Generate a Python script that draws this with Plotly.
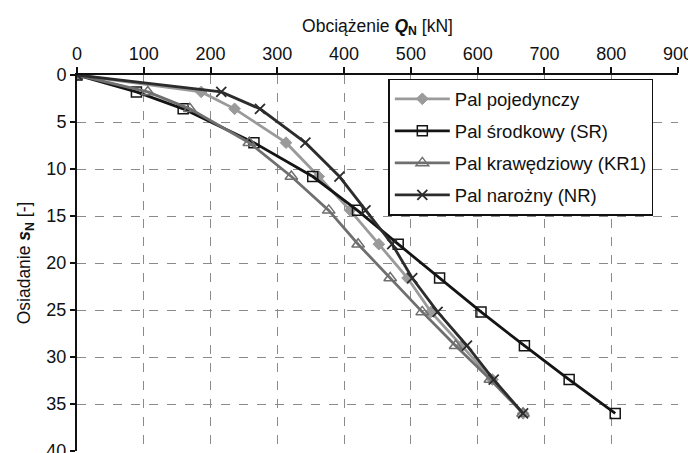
import plotly.graph_objects as go

settlement = [0, 1.8, 3.6, 7.2, 10.8, 14.4, 18, 21.6, 25.2, 28.8, 32.4, 36]
q_single = [0, 186, 236, 313, 362, 409, 452, 495, 530, 576, 622, 668]
q_sr = [0, 89, 159, 265, 353, 420, 481, 543, 605, 670, 737, 806]
q_kr1 = [0, 106, 169, 258, 321, 377, 421, 469, 517, 567, 619, 668]
q_nr = [0, 216, 274, 342, 393, 432, 472, 502, 540, 584, 624, 668]

names = ["Pal pojedynczy", "Pal środkowy (SR)", "Pal krawędziowy (KR1)", "Pal narożny (NR)"]
x_ticks = [0, 100, 200, 300, 400, 500, 600, 700, 800, 900]
y_ticks = [0, 5, 10, 15, 20, 25, 30, 35, 40]

FONT = "Liberation Sans, Arial, sans-serif"

styles = [
    dict(color="#9a9a9a", symbol="diamond", msize=9, mcolor="#9a9a9a", mline="#9a9a9a", mw=1),
    dict(color="#141414", symbol="square-open", msize=10, mcolor="#141414", mline="#141414", mw=1.5),
    dict(color="#6f6f6f", symbol="triangle-up-open", msize=11, mcolor="#6f6f6f", mline="#6f6f6f", mw=1.5),
    dict(color="#2c2c2c", symbol="x-thin-open", msize=10, mcolor="#2c2c2c", mline="#2c2c2c", mw=1.8),
]
series = [q_single, q_sr, q_kr1, q_nr]

fig = go.Figure()
for i, (nm, q, st) in enumerate(zip(names, series, styles)):
    fig.add_trace(go.Scatter(
        x=q, y=settlement, name=nm, mode="lines+markers",
        legendgroup=f"g{i}",
        line=dict(color=st["color"], width=2.8),
        marker=dict(symbol=st["symbol"], size=st["msize"], color=st["mcolor"],
                    line=dict(color=st["mline"], width=st["mw"])),
    ))

# page body has an 8px default margin, compensated here
fig.update_layout(
    width=696, height=453,
    margin=dict(l=69, r=26, t=67, b=10),
    paper_bgcolor="white", plot_bgcolor="white",
    font=dict(family=FONT, size=18, color="#111"),
    showlegend=True,
    legend=dict(
        x=0.518, y=0.99, xanchor="left", yanchor="top",
        bgcolor="white", bordercolor="#111", borderwidth=1.5,
        font=dict(family=FONT, size=18.5, color="#111"),
        itemwidth=55, tracegroupgap=5,
    ),
    xaxis=dict(
        side="top", range=[0, 900], tickvals=x_ticks,
        ticktext=[str(v) for v in x_ticks],
        showline=True, linecolor="#111", linewidth=2,
        ticks="outside", ticklen=6, tickcolor="#111", tickwidth=1.5,
        showgrid=True, gridcolor="#8a8a8a", griddash="dash", gridwidth=1,
        zeroline=False, tickfont=dict(family=FONT, size=18, color="#111"),
        automargin=False, ticklabeloverflow="allow",
        title=dict(text="Obciążenie <b><i>Q</i><sub>N</sub></b> [kN]",
                   font=dict(family=FONT, size=17.5, color="#111"), standoff=7),
    ),
    yaxis=dict(
        range=[40, 0], tickvals=y_ticks,
        ticktext=[str(v) for v in y_ticks],
        showline=True, linecolor="#111", linewidth=2,
        ticks="outside", ticklen=5, tickcolor="#111", tickwidth=1.5,
        showgrid=True, gridcolor="#8a8a8a", griddash="dash", gridwidth=1,
        zeroline=False, tickfont=dict(family=FONT, size=18, color="#111"),
        automargin=False, ticklabeloverflow="allow",
        title=dict(text="Osiadanie <b><i>s</i><sub>N</sub></b> [-]",
                   font=dict(family=FONT, size=17.5, color="#111"), standoff=11),
    ),
)

fig.write_html("out.html")
